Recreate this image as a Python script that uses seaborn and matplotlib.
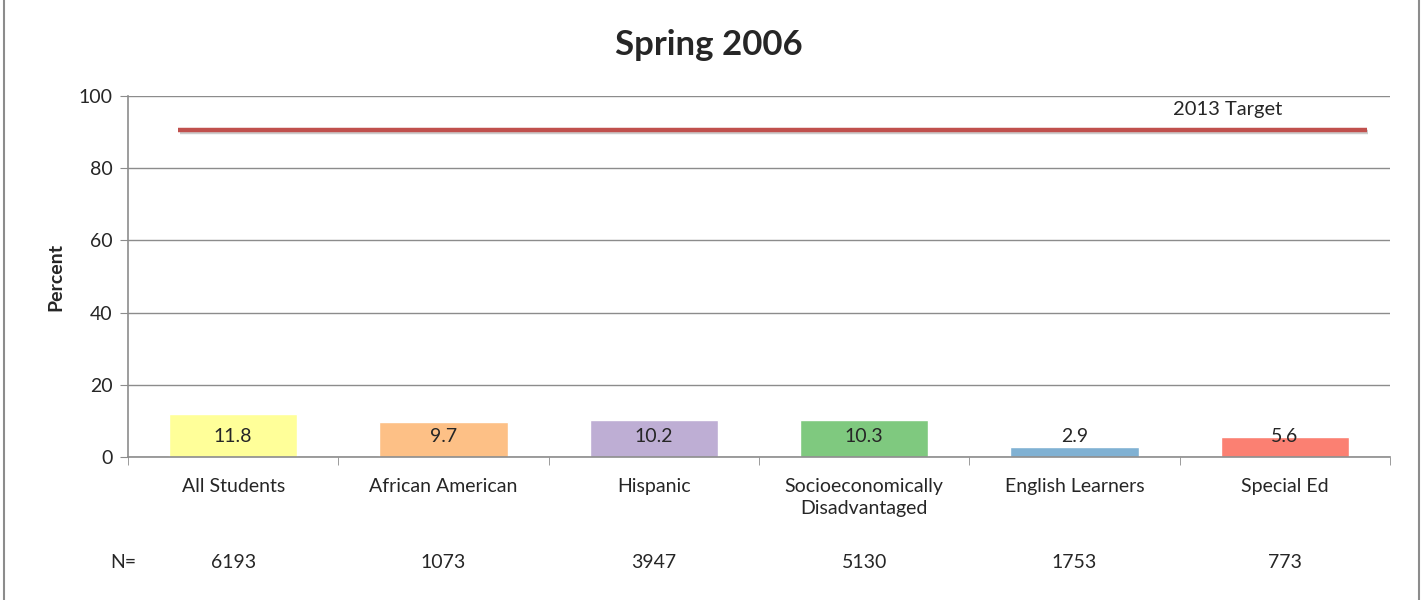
import numpy as np
import pandas as pd
import matplotlib
matplotlib.use("Agg")
import matplotlib.pyplot as plt
import matplotlib.patheffects as pe
from matplotlib.patches import Rectangle
import seaborn as sns

# data
groups = ['All Students', 'African American', 'Hispanic',
          'Socioeconomically\nDisadvantaged', 'English Learners', 'Special Ed']
percent = [11.8, 9.7, 10.2, 10.3, 2.9, 5.6]
n_counts = [6193, 1073, 3947, 5130, 1753, 773]
target = 90.7
bar_colors = ['#FFFF99', '#FDC086', '#BEAED4', '#7FC97F', '#80B1D3', '#FB8072']

df = pd.DataFrame({'group': groups, 'pct': percent})

sns.set_style('white')
plt.rcParams['font.family'] = ['Lato', 'DejaVu Sans']

fig = plt.figure(figsize=(14.24, 6), dpi=100)
ax = fig.add_axes([0.0899, 0.2383, 0.8862, 0.6017])

sns.barplot(data=df, x='group', y='pct', hue='group', palette=bar_colors,
            width=0.61, legend=False, ax=ax, saturation=1)

ax.set_xlim(-0.5, 5.5)
ax.set_ylim(0, 100)
ax.set_yticks(np.arange(0, 101, 20))
ax.yaxis.grid(True, color='#8c8c8c', linewidth=1)
ax.set_axisbelow(True)

# target line
ax.hlines(target, -0.26, 5.39, color='#C0504D', linewidth=3.2, zorder=3,
          path_effects=[pe.SimpleLineShadow(offset=(1, -1.5), alpha=0.2), pe.Normal()])
ax.text(4.726, 96.2, '2013 Target', ha='center', va='center', fontsize=14.5)

# value labels
for i, v in enumerate(percent):
    ax.text(i, 5.8, f'{v}', ha='center', va='center', fontsize=14)

# N row
for i, n in enumerate(n_counts):
    ax.text(i, -29.2, str(n), ha='center', va='center', fontsize=14)
ax.text(-0.46, -29.2, 'N=', ha='right', va='center', fontsize=14)

for s in ['top', 'right']:
    ax.spines[s].set_visible(False)
for s in ['left', 'bottom']:
    ax.spines[s].set_color('#8c8c8c')
    ax.spines[s].set_linewidth(1.2)

ax.set_xlabel('')
ax.set_ylabel('Percent', fontsize=14, fontweight='bold', labelpad=10)
ax.tick_params(axis='x', which='major', length=0, pad=15, labelsize=14)
for lbl in ax.get_xticklabels():
    lbl.set_linespacing(1.4)
ax.set_xticks(np.arange(-0.5, 5.6, 1), minor=True)
ax.tick_params(axis='x', which='minor', length=6, color='#8c8c8c', direction='out')
ax.tick_params(axis='y', length=6, color='#8c8c8c', direction='out', labelsize=14, pad=5)
ax.yaxis.set_ticks_position('left')
ax.xaxis.set_ticks_position('bottom')

fig.text(0.4975, 0.925, 'Spring 2006', ha='center', va='center', fontsize=25, fontweight='bold')

fig.patches.append(Rectangle((0.003, -0.01), 0.9935, 1.05, transform=fig.transFigure,
                             fill=False, edgecolor='#8c8c8c', linewidth=1.5))

fig.savefig('out.png', dpi=100)
